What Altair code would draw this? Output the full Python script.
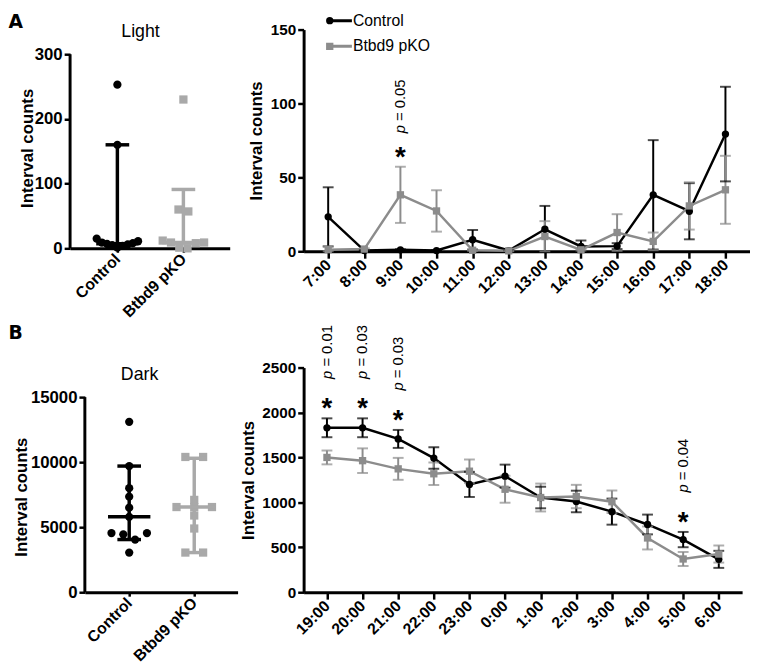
import altair as alt
import pandas as pd

FONT = "Liberation Sans"
BLACK = "#000000"
GRAY_L = "#a9a9a9"
GRAY_R = "#8c8c8c"

groups = ["Control", "Btbd9 pKO"]

# ---- Panel A (left): Light, individual animals ----
light_control = [253, 160, 15, 11, 9, 8, 7, 6, 5, 4, 2, 1]
light_pko = [230, 60, 57, 12, 9, 9, 8, 1, 0]
light_median = [7, 9]
light_low = [1, 8]
light_high = [160, 91]

# ---- Panel B (left): Dark, individual animals ----
dark_control = [13100, 9700, 8000, 7350, 6500, 5800, 4550, 4450, 4550, 4050, 3050]
dark_pko = [10400, 10400, 7100, 6550, 6550, 6550, 5900, 4900, 3050, 3050]
dark_median = [5800, 6550]
dark_low = [4050, 3050]
dark_high = [9700, 10300]

# ---- Panel A (right): hourly light ----
light_hours = ["7:00", "8:00", "9:00", "10:00", "11:00", "12:00",
               "13:00", "14:00", "15:00", "16:00", "17:00", "18:00"]
light_ctrl_mean = [23.3, 0.5, 1.0, 0.5, 7.8, 0.5, 14.9, 3.3, 3.5, 38.2, 27.1, 79.3]
light_ctrl_sem = [20.0, 0.3, 0.4, 0.3, 6.6, 0.3, 15.8, 4.0, 2.0, 37.0, 19.0, 32.0]
light_pko_mean = [1.1, 1.5, 38.2, 27.3, 0.7, 0.3, 10.0, 1.0, 12.7, 6.7, 30.7, 41.6]
light_pko_sem = [2.2, 0.5, 19.0, 14.0, 0.4, 0.2, 10.4, 0.5, 12.4, 6.0, 16.0, 23.0]
light_sig_hours = ["9:00"]
light_sig_p = ["0.05"]

# ---- Panel B (right): hourly dark ----
dark_hours = ["19:00", "20:00", "21:00", "22:00", "23:00", "0:00",
              "1:00", "2:00", "3:00", "4:00", "5:00", "6:00"]
dark_ctrl_mean = [1830, 1830, 1706, 1493, 1200, 1292, 1054, 1010, 897, 754, 586, 366]
dark_ctrl_sem = [105, 105, 100, 120, 140, 128, 120, 120, 145, 110, 85, 95]
dark_pko_mean = [1500, 1464, 1373, 1318, 1347, 1146, 1054, 1065, 1007, 604, 370, 425]
dark_pko_sem = [77, 137, 122, 125, 130, 150, 155, 130, 125, 128, 78, 95]
dark_sig_hours = ["19:00", "20:00", "21:00", "5:00"]
dark_sig_p = ["0.01", "0.03", "0.03", "0.04"]


def swarm(vals, ypx, d, thr, maxhalf):
    """Deterministic dot-plot spreading (pixel offsets) of points with close values."""
    order = sorted(range(len(vals)), key=lambda i: -vals[i])
    offs = [0.0] * len(vals)
    bins = []
    for i in order:
        if bins and (vals[bins[-1][0]] - vals[i]) * ypx < thr:
            bins[-1].append(i)
        else:
            bins.append([i])
    for b in bins:
        k = len(b)
        sp = min(d, 2 * maxhalf / (k - 1)) if k > 1 else 0.0
        slots = [(j - (k - 1) / 2) * sp for j in range(k)]
        seq = []
        lo, hi = 0, k - 1
        while lo <= hi:
            seq.append(lo)
            if lo != hi:
                seq.append(hi)
            lo += 1
            hi -= 1
        for idx, s in zip(b, seq):
            offs[idx] = slots[s]
    return offs


def title_axis(orient, text, tx, ty, baseline, align, font, size, weight):
    return alt.Axis(orient=orient, title=text, labels=False, ticks=False, domain=False,
                    grid=False, titleX=tx, titleY=ty, titleAlign=align,
                    titleBaseline=baseline, titleFont=font, titleFontSize=size,
                    titleFontWeight=weight, titleColor=BLACK, titleAngle=0, titlePadding=0)


def dot_panel(letter, top_title, ctrl, pko, med, low, high, yvals, ymax, width, height,
              xdom, xrange, y_offset, d, thr, maxhalf, top_title_x, top_title_y,
              ytitle_x, ytitle_y, letter_y):
    ypx = height / ymax
    xpx = (xrange[1] - xrange[0]) / (xdom[1] - xdom[0])
    rows = []
    for gi, vals in enumerate([ctrl, pko]):
        offs = swarm(vals, ypx, d, thr, maxhalf)
        for v, o in zip(vals, offs):
            rows.append({"group": groups[gi], "gx": gi + o / xpx, "v": v})
    pts = pd.DataFrame(rows)
    cap_h = 12 / xpx
    med_h = 21.5 / xpx
    stat = pd.DataFrame({"group": groups, "gi": [0, 1], "med": med, "low": low, "high": high})
    stat["ml"] = stat["gi"] - med_h
    stat["mr"] = stat["gi"] + med_h
    caps = pd.DataFrame({"group": groups * 2, "gi": [0, 1, 0, 1], "v": low + high})
    caps["cl"] = caps["gi"] - cap_h
    caps["cr"] = caps["gi"] + cap_h
    axl = pd.DataFrame({"x": [xdom[0]], "y0": [0], "y1": [yvals[-1]]})

    xs = alt.Scale(domain=xdom, range=xrange, nice=False, zero=False)
    ys = alt.Scale(domain=[0, ymax], nice=False, zero=False)
    cs = alt.Scale(domain=groups, range=[BLACK, GRAY_L])
    bottom = alt.Axis(values=[0, 1], labelExpr="datum.value == 0 ? 'Control' : 'Btbd9 pKO'",
                      title=None, labelAngle=315, labelAlign="right", labelBaseline="middle",
                      labelFont=FONT, labelFontSize=16, labelFontWeight="bold", labelColor=BLACK,
                      labelPadding=4, labelOverlap=False, labelFlush=False,
                      tickSize=4, tickWidth=2.5, tickColor=BLACK,
                      domainWidth=3, domainColor=BLACK, grid=False)
    left = alt.Axis(values=yvals, format="d", title="Interval counts", domain=False,
                    offset=y_offset, tickSize=6, tickWidth=2.5, tickColor=BLACK,
                    labelFont=FONT, labelFontSize=17, labelFontWeight="bold", labelColor=BLACK,
                    labelPadding=2, grid=False, titleFont=FONT, titleFontSize=17,
                    titleFontWeight="bold", titleColor=BLACK, titleAngle=270,
                    titleAlign="center", titleBaseline="middle",
                    titleX=ytitle_x, titleY=ytitle_y)
    color = alt.Color("group:N", scale=cs, legend=None)

    pts_layer = alt.Chart(pts).mark_point(filled=True, size=70, opacity=1).encode(
        x=alt.X("gx:Q", scale=xs, axis=bottom),
        y=alt.Y("v:Q", scale=ys, axis=left),
        color=color,
        shape=alt.Shape("group:N", scale=alt.Scale(domain=groups, range=["circle", "square"]),
                        legend=None),
    )
    vline = alt.Chart(stat).mark_rule(strokeWidth=3.5).encode(
        x=alt.X("gi:Q", scale=xs, axis=None),
        y=alt.Y("low:Q", scale=ys, axis=None), y2="high:Q", color=color)
    mline = alt.Chart(stat).mark_rule(strokeWidth=3.5).encode(
        x=alt.X("ml:Q", scale=xs, axis=title_axis("top", top_title, top_title_x, top_title_y,
                                                   "alphabetic", "center", FONT, 18, "normal")),
        x2="mr:Q",
        y=alt.Y("med:Q", scale=ys, axis=None), color=color)
    capl = alt.Chart(caps).mark_rule(strokeWidth=3.5).encode(
        x=alt.X("cl:Q", scale=xs, axis=None), x2="cr:Q",
        y=alt.Y("v:Q", scale=ys, axis=None), color=color)
    # panel letter carried by a label-less right-side axis title
    yline = alt.Chart(axl).mark_rule(strokeWidth=3, color=BLACK).encode(
        x=alt.X("x:Q", scale=xs, axis=None),
        y=alt.Y("y0:Q", scale=ys,
                axis=title_axis("right", letter, -width - 63, letter_y, "top", "left",
                                "DejaVu Sans", 19, "bold")),
        y2="y1:Q")
    return alt.layer(pts_layer, vline, mline, capl, yline).resolve_axis(
        x="independent", y="independent").properties(width=width, height=height)


def line_panel(hours, cm, csem, pm, psem, sig_hours, sig_p, yvals, ymax, width, height,
               pad, p_dx, ytitle_x, with_legend):
    n = len(hours)
    df = pd.DataFrame({
        "hour": hours + hours,
        "i": list(range(n)) * 2,
        "group": [groups[0]] * n + [groups[1]] * n,
        "m": cm + pm,
        "s": csem + psem,
    })
    df["lo"] = (df["m"] - df["s"]).clip(lower=0)
    df["hi"] = df["m"] + df["s"]
    caps = pd.concat([
        df[["hour", "group", "lo"]].rename(columns={"lo": "v"}),
        df[["hour", "group", "hi"]].rename(columns={"hi": "v"}),
    ], ignore_index=True)
    hi_max = df.groupby("hour")["hi"].max()
    ann = pd.DataFrame({"hour": sig_hours,
                        "top": [float(hi_max[h]) for h in sig_hours],
                        "ptxt": ["= " + p for p in sig_p]})

    xs = alt.Scale(type="point", domain=hours, padding=pad)
    ys = alt.Scale(domain=[0, ymax], nice=False, zero=True)
    cscale = alt.Scale(domain=groups, range=[BLACK, GRAY_R])
    xaxis = alt.Axis(title=None, labelAngle=315, labelAlign="right", labelBaseline="middle",
                     labelFont=FONT, labelFontSize=16, labelFontWeight="bold", labelColor=BLACK,
                     labelPadding=4, labelOverlap=False, tickSize=7, tickWidth=2.5,
                     tickColor=BLACK, domainWidth=3, domainColor=BLACK, grid=False)
    yaxis = alt.Axis(values=yvals, format="d", title="Interval counts", tickSize=6,
                     tickWidth=2.5, tickColor=BLACK, domainWidth=3, domainColor=BLACK,
                     labelFont=FONT, labelFontSize=15.5, labelFontWeight="bold",
                     labelColor=BLACK, labelPadding=2, grid=False, titleFont=FONT,
                     titleFontSize=17, titleFontWeight="bold", titleColor=BLACK,
                     titleAngle=270, titleAlign="center", titleBaseline="middle",
                     titleX=ytitle_x)
    X = alt.X("hour:N", scale=xs, axis=xaxis)
    Xn = alt.X("hour:N", scale=xs, axis=None)

    if with_legend:
        line_legend = alt.Legend(orient="none", legendX=27.5, legendY=-17, title=None,
                                 labelFont=FONT, labelFontSize=16, labelColor=BLACK,
                                 labelOffset=6.5, symbolStrokeWidth=3, symbolSize=81,
                                 symbolType="M-3,0H3", clipHeight=16, rowPadding=10,
                                 padding=0)
        circ_legend = alt.Legend(orient="none", legendX=21.5, legendY=-17, title=None,
                                 symbolType="circle", symbolSize=55, labelExpr="''",
                                 clipHeight=16, padding=0)
        sq_legend = alt.Legend(orient="none", legendX=21.5, legendY=9, title=None,
                               symbolType="square", symbolSize=55, labelExpr="''",
                               clipHeight=16, padding=0)
    else:
        line_legend = circ_legend = sq_legend = None

    color = alt.Color("group:N", scale=cscale, legend=None)
    line = alt.Chart(df).mark_line(strokeWidth=2.5).encode(
        x=X, y=alt.Y("m:Q", scale=ys, axis=yaxis),
        color=alt.Color("group:N", scale=cscale, legend=line_legend), order="i:Q")
    err = alt.Chart(df).mark_rule(strokeWidth=2).encode(
        x=Xn, y=alt.Y("lo:Q", scale=ys, axis=None), y2="hi:Q", color=color)
    cap = alt.Chart(caps).mark_tick(thickness=2, size=11).encode(
        x=Xn, y=alt.Y("v:Q", scale=ys, axis=None), color=color)
    circ = alt.Chart(df[df["group"] == groups[0]]).mark_point(
        filled=True, size=55, shape="circle", opacity=1).encode(
        x=Xn, y=alt.Y("m:Q", scale=ys, axis=None),
        color=alt.Color("group:N", scale=alt.Scale(domain=[groups[0]], range=[BLACK]),
                        legend=circ_legend))
    sq = alt.Chart(df[df["group"] == groups[1]]).mark_point(
        filled=True, size=55, shape="square", opacity=1).encode(
        x=Xn, y=alt.Y("m:Q", scale=ys, axis=None),
        color=alt.Color("group:N", scale=alt.Scale(domain=[groups[1]], range=[GRAY_R]),
                        legend=sq_legend))
    star = alt.Chart(ann).mark_text(text="*", font=FONT, fontSize=28, fontWeight="bold",
                                    baseline="alphabetic", dy=-1, color=BLACK).encode(
        x=Xn, y=alt.Y("top:Q", scale=ys, axis=None))
    pit = alt.Chart(ann).mark_text(text="p", font=FONT, fontSize=15, fontStyle="italic",
                                   angle=270, align="left", baseline="middle", dx=p_dx,
                                   color=BLACK).encode(
        x=Xn, y=alt.Y("top:Q", scale=ys, axis=None))
    prest = alt.Chart(ann).mark_text(font=FONT, fontSize=15, angle=270, align="left",
                                     baseline="middle", dx=p_dx + 12.5, color=BLACK).encode(
        x=Xn, y=alt.Y("top:Q", scale=ys, axis=None), text="ptxt:N")
    return alt.layer(line, err, cap, circ, sq, star, pit, prest).resolve_scale(
        color="independent").resolve_axis(x="independent", y="independent").properties(
        width=width, height=height)


a_left = dot_panel("A", "Light", light_control, light_pko, light_median, light_low, light_high,
                   [0, 100, 200, 300], 300 * 222 / 197, 162, 222,
                   [-48 / 67, 114 / 67], [0, 162], 0, 10, 9, 21, 71, 7, -43.5, 120, -17)
a_right = line_panel(light_hours, light_ctrl_mean, light_ctrl_sem, light_pko_mean,
                     light_pko_sem, light_sig_hours, light_sig_p, [0, 50, 100, 150], 150,
                     453, 225, 0.68, 34, -48, True)
b_left = dot_panel("B", "Dark", dark_control, dark_pko, dark_median, dark_low, dark_high,
                   [0, 5000, 10000, 15000], 15000 * 228 / 198, 170, 228,
                   [-45 / 66, 110 / 66], [15, 170], -15, 18, 7, 18, 70, 12, -64.5, 131, -44)
b_right = line_panel(dark_hours, dark_ctrl_mean, dark_ctrl_sem, dark_pko_mean,
                     dark_pko_sem, dark_sig_hours, dark_sig_p,
                     [0, 500, 1000, 1500, 2000, 2500], 2500, 445, 228, 0.655, 40, -56, False)

chart = alt.concat(
    a_left, a_right, b_left, b_right, columns=2,
    spacing={"row": 118, "column": 67}, bounds="flush",
    align={"row": "each", "column": "none"},
).properties(padding=0, background="white").configure_view(stroke=None)

chart.save("out.html", embed_options={"renderer": "svg", "actions": False})
